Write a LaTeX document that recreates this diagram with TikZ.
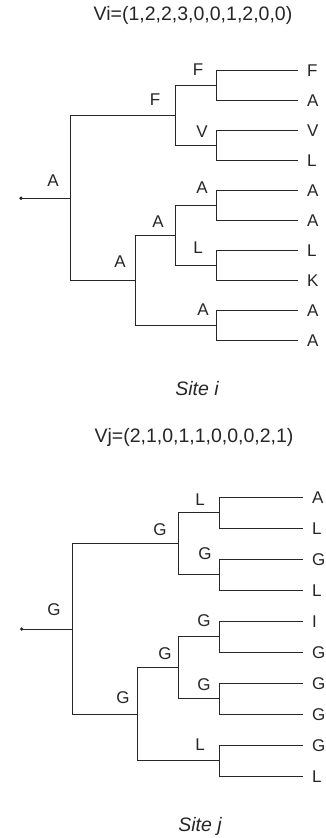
\documentclass[tikz,border=0pt]{standalone}
\usepackage{fontspec}
\setmainfont{Liberation Sans}
\begin{document}
\begin{tikzpicture}[x=1pt,y=-1pt,
  edge/.style={draw=black!85, line width=0.9pt},
  lbl/.style={inner sep=0pt, text=black!85, font=\fontsize{17}{20}\selectfont},
  leaf/.style={lbl, anchor=west, outer xsep=9pt, text height=12pt, text depth=0pt},
  ttl/.style={inner sep=0pt, text=black!85, font=\fontsize{19.5}{22}\selectfont},
  sitecaption/.style={inner sep=0pt, text=black!85, font=\fontsize{19.5}{22}\selectfont\itshape}]
\useasboundingbox (0,0) rectangle (326,838);
% ---------------- Site i ----------------
\node[ttl] (ti) at (193,15) {Vi=(1,2,2,3,0,0,1,2,0,0)};
\node[leaf] (a1) at (298,70.7) {F};
\node[leaf] (a2) at (298,100.7) {A};
\node[leaf] (a3) at (298,130.7) {V};
\node[leaf] (a4) at (298,160.7) {L};
\node[leaf] (a5) at (298,190.7) {A};
\node[leaf] (a6) at (298,220.7) {A};
\node[leaf] (a7) at (298,250.7) {L};
\node[leaf] (a8) at (298,280.7) {K};
\node[leaf] (a9) at (298,310.7) {A};
\node[leaf] (a10) at (298,340.7) {A};
\coordinate (p1) at (216,85.7);
\coordinate (p2) at (216,145.7);
\coordinate (p3) at (175,115.7);
\coordinate (p4) at (216,205.7);
\coordinate (p5) at (216,265.7);
\coordinate (p6) at (175,235.7);
\coordinate (p7) at (216,325.7);
\coordinate (p8) at (135,280.7);
\coordinate (pr) at (70,198.2);
\coordinate (pd) at (21,198.2);
\draw[edge] (p1) |- (a1); \draw[edge] (p1) |- (a2);
\draw[edge] (p2) |- (a3); \draw[edge] (p2) |- (a4);
\draw[edge] (p4) |- (a5); \draw[edge] (p4) |- (a6);
\draw[edge] (p5) |- (a7); \draw[edge] (p5) |- (a8);
\draw[edge] (p7) |- (a9); \draw[edge] (p7) |- (a10);
\draw[edge] (p3) |- (p1); \draw[edge] (p3) |- (p2);
\draw[edge] (p6) |- (p4); \draw[edge] (p6) |- (p5);
\draw[edge] (p8) |- (p6); \draw[edge] (p8) |- (p7);
\draw[edge] (pr) |- (p3); \draw[edge] (pr) |- (p8);
\draw[edge] (pd) -- (pr);
\fill[black!85] (pd) circle (1.8pt);
\node[lbl] (n1) at (198,70) {F};
\node[lbl] (n3) at (155,100) {F};
\node[lbl] (n2) at (202,132) {V};
\node[lbl] (nr) at (53,181) {A};
\node[lbl] (n4) at (202,188) {A};
\node[lbl] (n6) at (158,221.5) {A};
\node[lbl] (n5) at (198,248) {L};
\node[lbl] (n8) at (120,262) {A};
\node[lbl] (n7) at (203,310) {A};
\node[sitecaption] (si) at (197,389) {Site i};
% ---------------- Site j ----------------
\node[ttl] (tj) at (194,437) {Vj=(2,1,0,1,1,0,0,0,2,1)};
\node[leaf] (b1) at (303,497.3) {A};
\node[leaf] (b2) at (303,528.3) {L};
\node[leaf] (b3) at (303,559.3) {G};
\node[leaf] (b4) at (303,590.3) {L};
\node[leaf] (b5) at (303,621.3) {I};
\node[leaf] (b6) at (303,652.3) {G};
\node[leaf] (b7) at (303,683.3) {G};
\node[leaf] (b8) at (303,714.3) {G};
\node[leaf] (b9) at (303,745.3) {G};
\node[leaf] (b10) at (303,776.3) {L};
\coordinate (q1) at (219,512.8);
\coordinate (q2) at (219,574.8);
\coordinate (q3) at (178,543.8);
\coordinate (q4) at (219,636.8);
\coordinate (q5) at (219,698.8);
\coordinate (q6) at (178,667.8);
\coordinate (q7) at (219,760.8);
\coordinate (q8) at (137,714.3);
\coordinate (qr) at (72,629);
\coordinate (qd) at (21.7,629);
\draw[edge] (q1) |- (b1); \draw[edge] (q1) |- (b2);
\draw[edge] (q2) |- (b3); \draw[edge] (q2) |- (b4);
\draw[edge] (q4) |- (b5); \draw[edge] (q4) |- (b6);
\draw[edge] (q5) |- (b7); \draw[edge] (q5) |- (b8);
\draw[edge] (q7) |- (b9); \draw[edge] (q7) |- (b10);
\draw[edge] (q3) |- (q1); \draw[edge] (q3) |- (q2);
\draw[edge] (q6) |- (q4); \draw[edge] (q6) |- (q5);
\draw[edge] (q8) |- (q6); \draw[edge] (q8) |- (q7);
\draw[edge] (qr) |- (q3); \draw[edge] (qr) |- (q8);
\draw[edge] (qd) -- (qr);
\fill[black!85] (qd) circle (1.8pt);
\node[lbl] (m1) at (200,500) {L};
\node[lbl] (m3) at (160,529.3) {G};
\node[lbl] (m2) at (205,553.3) {G};
\node[lbl] (mr) at (54,610) {G};
\node[lbl] (m4) at (204,621) {G};
\node[lbl] (m6) at (165,653.3) {G};
\node[lbl] (m5) at (204,685) {G};
\node[lbl] (m8) at (123,697.7) {G};
\node[lbl] (m7) at (200,745) {L};
\node[sitecaption] (sj) at (200,826) {Site j};
\end{tikzpicture}
\end{document}
